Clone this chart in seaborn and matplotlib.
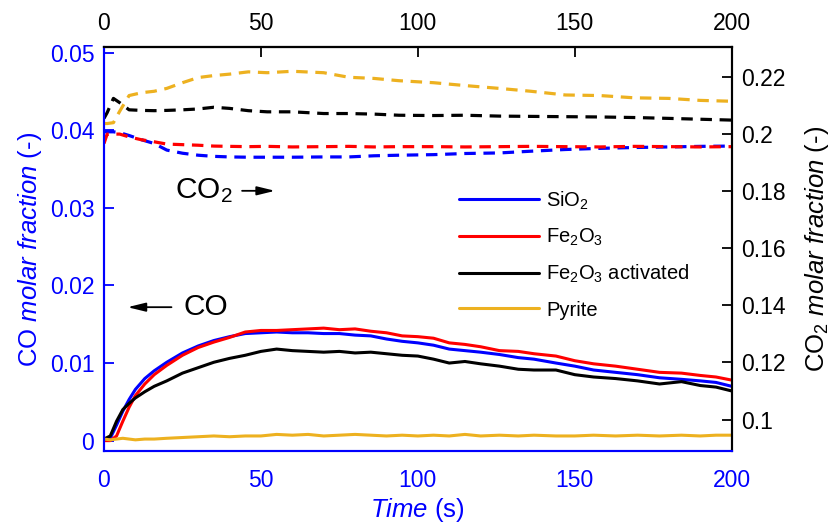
import numpy as np
import pandas as pd
import matplotlib
matplotlib.use("Agg")
import matplotlib.pyplot as plt
import seaborn as sns

sns.set_theme(style="white")
plt.rcParams['font.family'] = ['Liberation Sans', 'DejaVu Sans']
plt.rcParams['mathtext.fontset'] = 'custom'
plt.rcParams['mathtext.rm'] = 'Liberation Sans'
plt.rcParams['mathtext.it'] = 'Liberation Sans:italic'
plt.rcParams['mathtext.bf'] = 'Liberation Sans:bold'
plt.rcParams['lines.dashed_pattern'] = [3.6, 2.4]
plt.rcParams['text.color'] = 'black'
plt.rcParams['axes.labelcolor'] = 'black'

# ---------------- data ----------------
series_names = ["SiO$_2$", "Fe$_2$O$_3$", "Fe$_2$O$_3$ activated", "Pyrite"]
series_colors = ["#0000FF", "#FF0000", "#000000", "#EDB120"]

t_co = [0, 2, 4, 6, 8, 10, 13, 16, 20, 25, 30, 35, 40, 45, 50, 55, 60, 65, 70, 75,
        80, 85, 90, 95, 100, 105, 110, 115, 120, 126, 132, 137, 144, 150, 156, 163,
        170, 177, 184, 190, 195, 200]
co_sio2 = [0.0000, 0.0003, 0.0020, 0.0038, 0.0053, 0.0066, 0.0080, 0.0090, 0.0101, 0.0113,
           0.0122, 0.0129, 0.0134, 0.0138, 0.0139, 0.0140, 0.0139, 0.0139, 0.0138, 0.0138,
           0.0136, 0.0135, 0.0131, 0.0128, 0.0126, 0.0123, 0.0118, 0.0116, 0.0114, 0.0111,
           0.0107, 0.0105, 0.0100, 0.0096, 0.0091, 0.0088, 0.0085, 0.0081, 0.0079, 0.0077,
           0.0075, 0.0070]
co_fe2o3 = [0.0000, 0.0000, 0.0006, 0.0025, 0.0043, 0.0058, 0.0073, 0.0085, 0.0097, 0.0110,
            0.0120, 0.0127, 0.0133, 0.0140, 0.0142, 0.0142, 0.0143, 0.0144, 0.0145, 0.0143,
            0.0144, 0.0141, 0.0139, 0.0135, 0.0134, 0.0132, 0.0126, 0.0124, 0.0121, 0.0116,
            0.0115, 0.0112, 0.0109, 0.0103, 0.0099, 0.0096, 0.0092, 0.0088, 0.0087, 0.0084,
            0.0082, 0.0078]
co_fe2o3_act = [0.0002, 0.0006, 0.0025, 0.0040, 0.0048, 0.0055, 0.0063, 0.0070, 0.0077, 0.0087,
                0.0094, 0.0101, 0.0106, 0.0110, 0.0115, 0.0118, 0.0116, 0.0115, 0.0114, 0.0115,
                0.0113, 0.0114, 0.0112, 0.0110, 0.0109, 0.0105, 0.0100, 0.0102, 0.0099, 0.0096,
                0.0092, 0.0091, 0.0091, 0.0085, 0.0082, 0.0080, 0.0077, 0.0073, 0.0076, 0.0071,
                0.0069, 0.0064]
co_pyrite = [0.0002, 0.0001, 0.0002, 0.0003, 0.0002, 0.0001, 0.0002, 0.0002, 0.0003, 0.0004,
             0.0005, 0.0006, 0.0005, 0.0006, 0.0006, 0.0008, 0.0007, 0.0008, 0.0006, 0.0007,
             0.0008, 0.0007, 0.0006, 0.0007, 0.0006, 0.0007, 0.0006, 0.0008, 0.0006, 0.0007,
             0.0006, 0.0007, 0.0006, 0.0006, 0.0007, 0.0006, 0.0007, 0.0006, 0.0007, 0.0006,
             0.0007, 0.0007]

t_co2 = [0, 1, 3, 5, 8, 12, 16, 20, 25, 30, 35, 40, 46, 52, 60, 70, 78, 86, 94, 105,
         115, 126, 136, 147, 158, 169, 180, 190, 200]
co2_sio2 = [0.2008, 0.2008, 0.2008, 0.2005, 0.1995, 0.1980, 0.1967, 0.1944, 0.1933, 0.1926,
            0.1922, 0.1920, 0.1919, 0.1919, 0.1919, 0.1920, 0.1920, 0.1924, 0.1926, 0.1928,
            0.1932, 0.1934, 0.1940, 0.1946, 0.1950, 0.1953, 0.1955, 0.1957, 0.1958]
co2_fe2o3 = [0.1967, 0.2000, 0.2000, 0.2000, 0.1990, 0.1980, 0.1973, 0.1965, 0.1963, 0.1961,
             0.1958, 0.1957, 0.1956, 0.1957, 0.1955, 0.1956, 0.1957, 0.1955, 0.1956, 0.1956,
             0.1955, 0.1956, 0.1957, 0.1956, 0.1955, 0.1957, 0.1956, 0.1955, 0.1956]
co2_fe2o3_act = [0.2055, 0.2075, 0.2125, 0.2110, 0.2085, 0.2083, 0.2082, 0.2083, 0.2085, 0.2088,
                 0.2094, 0.2090, 0.2082, 0.2078, 0.2078, 0.2072, 0.2072, 0.2070, 0.2066, 0.2065,
                 0.2066, 0.2063, 0.2062, 0.2061, 0.2060, 0.2058, 0.2055, 0.2052, 0.2049]
co2_pyrite = [0.2037, 0.2037, 0.2040, 0.2080, 0.2135, 0.2145, 0.2150, 0.2160, 0.2180, 0.2198,
              0.2205, 0.2210, 0.2218, 0.2215, 0.2220, 0.2215, 0.2199, 0.2195, 0.2187, 0.2180,
              0.2170, 0.2160, 0.2150, 0.2137, 0.2135, 0.2127, 0.2125, 0.2118, 0.2115]

x_ticks = [0, 50, 100, 150, 200]
co_ticks = [0, 0.01, 0.02, 0.03, 0.04, 0.05]
co_tick_labels = ["0", "0.01", "0.02", "0.03", "0.04", "0.05"]
co2_ticks = [0.10, 0.12, 0.14, 0.16, 0.18, 0.20, 0.22]
co2_tick_labels = ["0.1", "0.12", "0.14", "0.16", "0.18", "0.2", "0.22"]

co_series = [co_sio2, co_fe2o3, co_fe2o3_act, co_pyrite]
co2_series = [co2_sio2, co2_fe2o3, co2_fe2o3_act, co2_pyrite]

BLUE = "#0000FF"
TICK_FS = 16.5
LAB_FS = 18.5

# ---------------- figure ----------------
fig = plt.figure(figsize=(8.37, 5.27), dpi=100)
ax = fig.add_axes([104/837, 1 - 450.7/527, (731.7 - 104)/837, (450.7 - 47.3)/527])
ax2 = ax.twinx()

handles = []
for name, col, vals in zip(series_names, series_colors, co_series):
    df = pd.DataFrame({"t": t_co, "v": vals})
    sns.lineplot(data=df, x="t", y="v", ax=ax, color=col, linewidth=2.2,
                 estimator=None, legend=False)
    handles.append(ax.lines[-1])

for name, col, vals in zip(series_names, series_colors, co2_series):
    df = pd.DataFrame({"t": t_co2, "v": vals})
    sns.lineplot(data=df, x="t", y="v", ax=ax2, color=col, linewidth=2.3,
                 linestyle="--", estimator=None, legend=False)

ax.set_xlim(0, 200)
ax.set_ylim(-0.0013, 0.0507)
ax2.set_ylim(0.0891, 0.2304)

ax.set_xticks(x_ticks)
ax.set_xticklabels([str(v) for v in x_ticks])
ax.set_yticks(co_ticks)
ax.set_yticklabels(co_tick_labels)
ax2.set_yticks(co2_ticks)
ax2.set_yticklabels(co2_tick_labels)

ax.tick_params(axis="x", direction="in", length=7, width=1.3, colors=BLUE,
               labelsize=TICK_FS, pad=13, top=False)
ax.tick_params(axis="y", direction="in", length=7, width=1.3, colors=BLUE,
               labelsize=TICK_FS, pad=7)
ax2.tick_params(axis="y", direction="in", length=7, width=1.3, colors="black",
                labelsize=TICK_FS, pad=7)

sec = ax.secondary_xaxis("top")
sec.set_xticks(x_ticks)
sec.set_xticklabels([str(v) for v in x_ticks])
sec.tick_params(axis="x", direction="in", length=7, width=1.3, colors="black",
                labelsize=TICK_FS, pad=9)
sec.spines["top"].set_color("black")
sec.spines["top"].set_linewidth(1.5)

for a in (ax, ax2):
    a.spines["left"].set_color(BLUE)
    a.spines["bottom"].set_color(BLUE)
    a.spines["right"].set_color("black")
    a.spines["top"].set_color("black")
    for s in a.spines.values():
        s.set_linewidth(1.5)
    a.grid(False)

ax.set_xlabel(r"$\it{Time}$ (s)", fontsize=LAB_FS, color=BLUE, labelpad=3)
ax.set_ylabel(r"CO $\it{molar\ fraction}$ (-)", fontsize=LAB_FS, color=BLUE, labelpad=4)
ax2.set_ylabel(r"CO$_2$ $\it{molar\ fraction}$ (-)", fontsize=LAB_FS, color="black", labelpad=12)

# annotations
ax.text(22.5, 0.0322, r"CO$_2$", fontsize=21.5, color="black", va="center", ha="left")
ax.annotate("", xy=(54.5, 0.0322), xytext=(44.0, 0.0322),
            arrowprops=dict(arrowstyle="-|>,head_length=0.9,head_width=0.22",
                            color="black", lw=1.3, shrinkA=0, shrinkB=0))
ax.text(25.3, 0.0172, "CO", fontsize=21.5, color="black", va="center", ha="left")
ax.annotate("", xy=(7.5, 0.0172), xytext=(21.5, 0.0172),
            arrowprops=dict(arrowstyle="-|>,head_length=0.9,head_width=0.22",
                            color="black", lw=1.3, shrinkA=0, shrinkB=0))

leg = ax2.legend(handles, series_names, loc="upper left",
                 bbox_to_anchor=(0.565, 0.648), frameon=False, fontsize=14.5,
                 handlelength=4.0, handletextpad=0.35, labelspacing=0.75,
                 borderaxespad=0, borderpad=0, labelcolor="black")

fig.savefig("out.png", dpi=100)
